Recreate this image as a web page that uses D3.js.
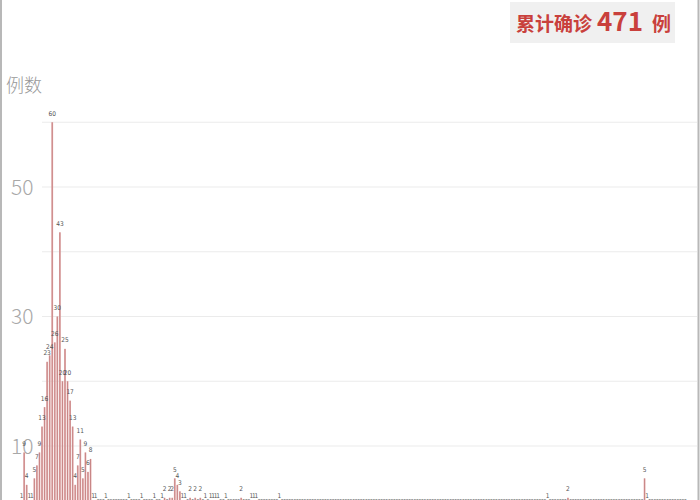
<!DOCTYPE html>
<html>
<head>
<meta charset="utf-8">
<script src="https://cdn.jsdelivr.net/npm/d3@7"></script>
<style>
  html, body { margin: 0; padding: 0; background: #fff; }
  svg { display: block; }
</style>
</head>
<body>
<div id="chart"></div>
<script>
// daily new confirmed cases, one entry per day
var dailyCases = [
    1, 9, 4, 1, 1, 5, 7, 9, 13, 16,
    23, 24, 60, 26, 30, 43, 20, 25, 20, 17,
    13, 4, 7, 11, 5, 9, 6, 8, 1, 1,
    0, 0, 0, 1, 0, 0, 0, 0, 0, 0,
    0, 0, 1, 0, 0, 0, 0, 1, 0, 0,
    0, 0, 1, 0, 0, 1, 2, 0, 2, 2,
    5, 4, 3, 1, 1, 0, 2, 0, 2, 0,
    2, 0, 1, 0, 1, 1, 1, 1, 0, 0,
    1, 0, 0, 0, 0, 0, 2, 0, 0, 0,
    1, 1, 1, 0, 0, 0, 0, 0, 0, 0,
    0, 1, 0, 0, 0, 0, 0, 0, 0, 0,
    0, 0, 0, 0, 0, 0, 0, 0, 0, 0,
    0, 0, 0, 0, 0, 0, 0, 0, 0, 0,
    0, 0, 0, 0, 0, 0, 0, 0, 0, 0,
    0, 0, 0, 0, 0, 0, 0, 0, 0, 0,
    0, 0, 0, 0, 0, 0, 0, 0, 0, 0,
    0, 0, 0, 0, 0, 0, 0, 0, 0, 0,
    0, 0, 0, 0, 0, 0, 0, 0, 0, 0,
    0, 0, 0, 0, 0, 0, 0, 0, 0, 0,
    0, 0, 0, 0, 0, 0, 0, 0, 0, 0,
    0, 0, 0, 0, 0, 0, 1, 0, 0, 0,
    0, 0, 0, 0, 2, 0, 0, 0, 0, 0,
    0, 0, 0, 0, 0, 0, 0, 0, 0, 0,
    0, 0, 0, 0, 0, 0, 0, 0, 0, 0,
    0, 0, 0, 0, 5, 1, 0, 0, 0, 0,
    0, 0, 0, 0, 0, 0, 0, 0, 0, 0,
    0
];
var dayIndex = dailyCases.map(function (d, i) { return i; });

var gridValues = [10, 20, 30, 40, 50, 60];
var tickLabels = [10, 30, 50];
var yTitle = "例数";
var totalPrefix = "累计确诊";
var totalUnit = "例";
var total = d3.sum(dailyCases);

var width = 700, height = 500;
var barColor = "#e3aaaa";
var barCore = "#a85a5a";
var red = "#c9403c";

var svg = d3.select("#chart").append("svg")
    .attr("width", width)
    .attr("height", height);

var x = d3.scaleBand()
    .domain(dayIndex)
    .range([20.7, 686.3])
    .paddingInner(0.3);

// baseline sits a little below the window, like the original crop
var y = d3.scaleLinear()
    .domain([0, 60])
    .range([510.75, 122.25]);

// frame
svg.append("line")
    .attr("x1", 1).attr("x2", 1).attr("y1", 0).attr("y2", height)
    .attr("stroke", "#b8b8b8").attr("stroke-width", 2);
svg.append("line")
    .attr("x1", 698.5).attr("x2", 698.5).attr("y1", 0).attr("y2", height)
    .attr("stroke", "#b8b8b8").attr("stroke-width", 2);

// grid
svg.append("g").selectAll("line")
    .data(gridValues)
    .enter().append("line")
    .attr("x1", 42).attr("x2", 697)
    .attr("y1", function (d) { return y(d); })
    .attr("y2", function (d) { return y(d); })
    .attr("stroke", "#ebebeb")
    .attr("stroke-width", 1);

svg.append("g").selectAll("text")
    .data(tickLabels)
    .enter().append("text")
    .attr("x", 11)
    .attr("y", function (d) { return y(d); })
    .attr("dy", "0.36em")
    .attr("font-family", "'Noto Sans CJK SC', 'Noto Sans', sans-serif")
    .attr("font-weight", 300)
    .attr("font-size", 21)
    .attr("fill", "#a8a8a8")
    .text(function (d) { return d; });

svg.append("text")
    .attr("x", 6).attr("y", 92)
    .attr("font-family", "'Noto Sans CJK SC', sans-serif")
    .attr("font-weight", 300)
    .attr("font-size", 18)
    .attr("fill", "#999")
    .text(yTitle);

// bars
var bars = svg.append("g");
bars.selectAll("rect")
    .data(dailyCases)
    .enter().append("rect")
    .attr("x", function (d, i) { return x(i); })
    .attr("width", x.bandwidth())
    .attr("y", function (d) { return y(d); })
    .attr("height", function (d) { return y(0) - y(d); })
    .attr("fill", barColor);

bars.selectAll("line")
    .data(dailyCases)
    .enter().append("line")
    .attr("x1", function (d, i) { return x(i) + x.bandwidth() / 2; })
    .attr("x2", function (d, i) { return x(i) + x.bandwidth() / 2; })
    .attr("y1", function (d) { return y(d); })
    .attr("y2", y(0))
    .attr("stroke", barCore)
    .attr("stroke-width", 0.45);

// value labels
svg.append("g").selectAll("text")
    .data(dailyCases)
    .enter().append("text")
    .attr("x", function (d, i) { return x(i) + x.bandwidth() / 2; })
    .attr("y", function (d) { return y(d) - 6.5; })
    .attr("text-anchor", "middle")
    .attr("font-family", "'DejaVu Sans Condensed', sans-serif")
    .attr("font-size", 6.5)
    .attr("fill", "#555")
    .text(function (d) { return d; });

// total box
var box = svg.append("g");
box.append("rect")
    .attr("x", 510).attr("y", 2)
    .attr("width", 165).attr("height", 41)
    .attr("fill", "#f0f0f0");

var t = box.append("text")
    .attr("x", 516).attr("y", 31)
    .attr("font-family", "'Noto Sans CJK SC', sans-serif")
    .attr("font-weight", "bold")
    .attr("fill", red);
t.append("tspan").attr("font-size", 19).text(totalPrefix);
t.append("tspan").attr("font-size", 26).attr("dx", 5).text(total);
t.append("tspan").attr("font-size", 19).attr("dx", 9).text(totalUnit);
</script>
</body>
</html>
